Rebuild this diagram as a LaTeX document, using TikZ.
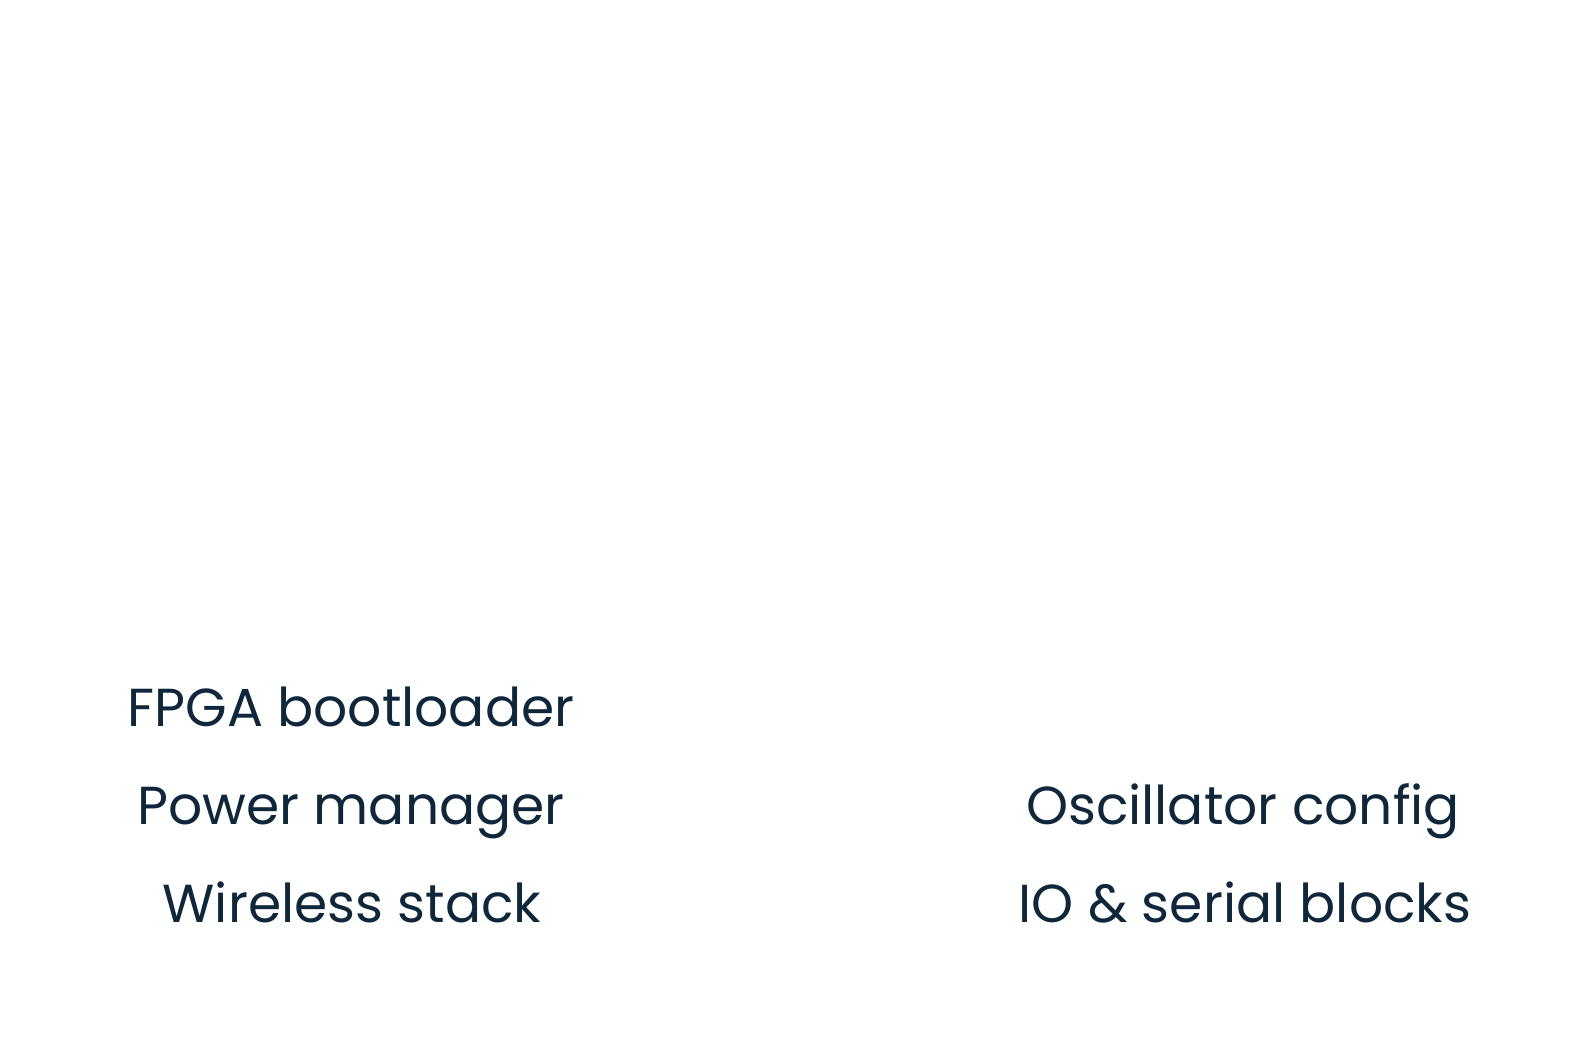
\documentclass[tikz,border=0pt]{standalone}
\usepackage{fontspec}
\setmainfont{Poppins}
\definecolor{labelink}{HTML}{10263A}
\begin{document}
\begin{tikzpicture}[x=1pt,y=1pt,
  lbl/.style={anchor=base,inner sep=0pt,text=labelink,font=\fontsize{53.5}{60}\selectfont}]
\useasboundingbox (0,0) rectangle (1596,1050);
\node[lbl] (fpga) at (351,323) {FPGA bootloader};
\node[lbl] (power) at (351,225) {Power manager};
\node[lbl] (wireless) at (352,127) {Wireless stack};
\node[lbl] (osc) at (1243,225) {Oscillator config};
\node[lbl] (io) at (1245,127) {IO \& serial blocks};
\end{tikzpicture}
\end{document}
